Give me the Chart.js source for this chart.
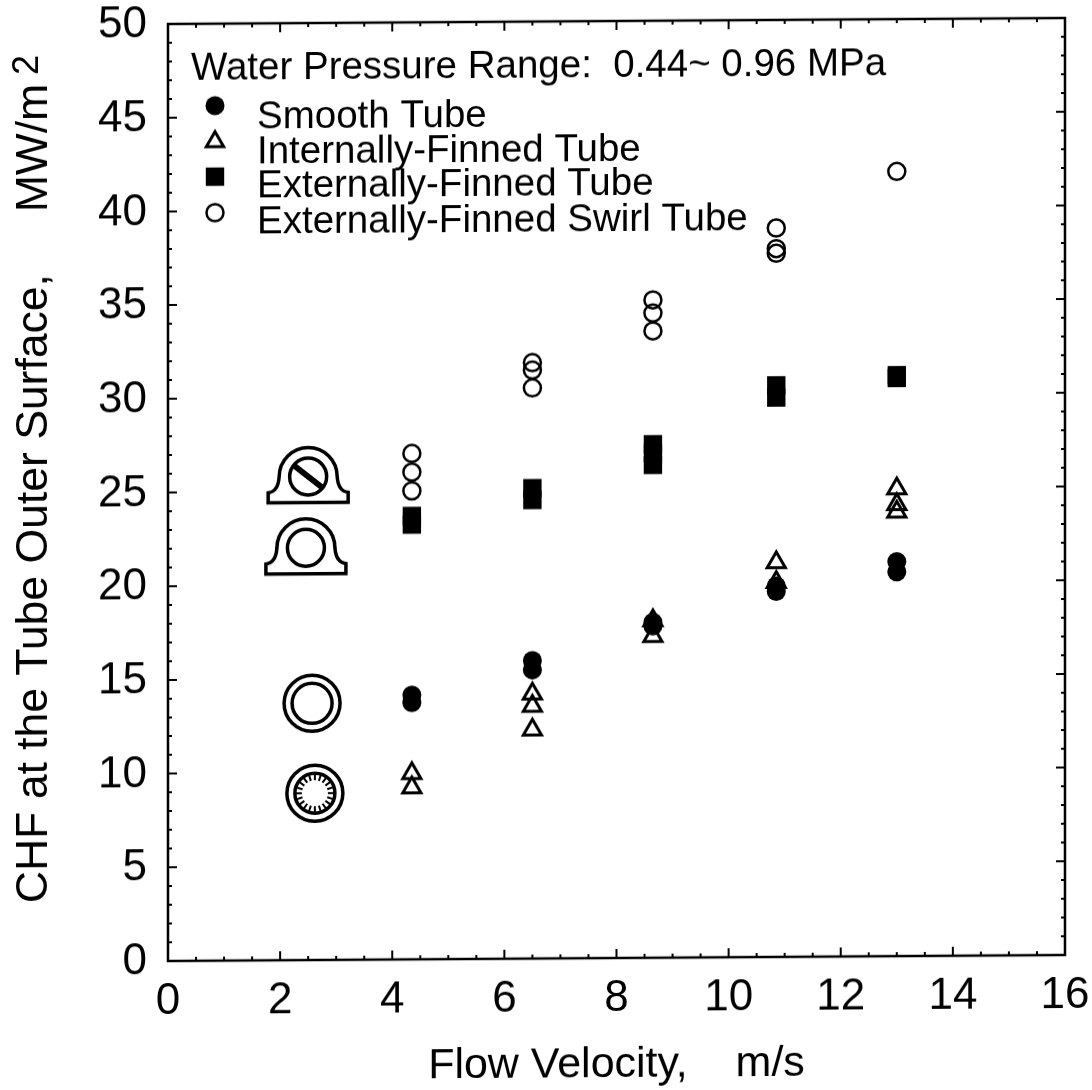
<!DOCTYPE html>
<html>
<head>
<meta charset="utf-8">
<title>CHF vs Flow Velocity</title>
<script src="https://cdn.jsdelivr.net/npm/chart.js@4"></script>
<style>
  html, body { margin: 0; background: #fff; }
  /* the scanned original leans slightly: top and bottom axes rise to the right */
  #chf { display: block; transform-origin: 168px 0; transform: skewY(-0.383deg); }
</style>
</head>
<body>
<canvas id="chf" width="1092" height="1090"></canvas>
<script>
const velocities = [4.35, 6.5, 8.65, 10.85, 13.0];

// CHF readings (MW/m2), one list per velocity
const smoothTube = [[14.1, 13.7], [15.9, 15.4], [17.9, 17.7], [19.8, 19.5], [21.05, 20.5]];
const internallyFinned = [[9.92, 9.16], [14.13, 13.47, 12.2], [18.0, 17.15], [21.05, 20.0], [24.95, 24.1, 23.7]];
const externallyFinned = [[23.66, 23.2], [25.1, 24.47], [27.4, 26.9, 26.3], [30.5, 29.85], [31.0, 30.85]];
const swirlTube = [[27.0, 26.0, 25.0], [31.8, 31.4, 30.45], [35.1, 34.4, 33.45], [38.9, 37.8, 37.55], [41.87]];

const legendTitle = 'Water Pressure Range:  0.44~ 0.96 MPa';
const seriesNames = ['Smooth Tube', 'Internally-Finned Tube', 'Externally-Finned Tube', 'Externally-Finned Swirl Tube'];

const FONT = '"Liberation Sans", Arial, sans-serif';
const BLACK = '#000';
const CLEAR = 'rgba(0,0,0,0)';

function toPoints(rows) {
  const pts = [];
  rows.forEach((vals, i) => vals.forEach(v => pts.push({ x: velocities[i], y: v })));
  return pts;
}

const markers = [
  { pointStyle: 'circle', pointRadius: 9.5, pointBackgroundColor: BLACK, pointBorderColor: BLACK, pointBorderWidth: 0 },
  { pointStyle: 'triangle', pointRadius: 10.5, pointBackgroundColor: CLEAR, pointBorderColor: BLACK, pointBorderWidth: 3 },
  { pointStyle: 'rect', pointRadius: 13, pointBackgroundColor: BLACK, pointBorderColor: BLACK, pointBorderWidth: 0 },
  { pointStyle: 'circle', pointRadius: 8.5, pointBackgroundColor: CLEAR, pointBorderColor: BLACK, pointBorderWidth: 2.5 }
];

// tube cross-section sketches, anchored in data units
function saddle(ctx, swirl) {
  ctx.beginPath();
  ctx.moveTo(-29, 0);
  ctx.arc(0, 0, 29, Math.PI, 0);
  ctx.quadraticCurveTo(30, 15, 40, 16);
  ctx.lineTo(40, 26);
  ctx.lineTo(-40, 26);
  ctx.lineTo(-40, 16);
  ctx.quadraticCurveTo(-30, 15, -29, 0);
  ctx.stroke();
  ctx.beginPath();
  ctx.arc(0, 0, 18.5, 0, Math.PI * 2);
  ctx.stroke();
  if (swirl) {
    ctx.save();
    ctx.lineWidth = 6;
    ctx.beginPath();
    ctx.moveTo(-14, -11);
    ctx.lineTo(14, 11);
    ctx.stroke();
    ctx.restore();
  }
}

function ring(ctx, finned) {
  ctx.beginPath();
  ctx.arc(0, 0, 28, 0, Math.PI * 2);
  ctx.stroke();
  ctx.beginPath();
  ctx.arc(0, 0, 20, 0, Math.PI * 2);
  ctx.stroke();
  if (finned) {
    ctx.save();
    ctx.lineWidth = 2;
    for (let i = 0; i < 20; i++) {
      const a = i / 20 * Math.PI * 2;
      ctx.beginPath();
      ctx.moveTo(Math.cos(a) * 19, Math.sin(a) * 19);
      ctx.lineTo(Math.cos(a) * 13, Math.sin(a) * 13);
      ctx.stroke();
    }
    ctx.restore();
  }
}

const frame = {
  id: 'frame',
  afterDatasetsDraw(chart) {
    const { ctx, chartArea: a, scales: { x, y } } = chart;
    ctx.save();
    ctx.strokeStyle = BLACK;
    ctx.fillStyle = BLACK;
    ctx.lineWidth = 2.5;
    ctx.strokeRect(a.left, a.top, a.right - a.left, a.bottom - a.top);

    // inward ticks on all four sides
    ctx.lineWidth = 2;
    x.ticks.forEach(t => {
      const px = x.getPixelForValue(t.value);
      const len = t.value % 2 === 0 ? 9 : 4;
      ctx.beginPath();
      ctx.moveTo(px, a.bottom); ctx.lineTo(px, a.bottom - len);
      ctx.moveTo(px, a.top); ctx.lineTo(px, a.top + len);
      ctx.stroke();
    });
    y.ticks.forEach(t => {
      const py = y.getPixelForValue(t.value);
      const len = t.value % 5 === 0 ? 9 : 4;
      ctx.beginPath();
      ctx.moveTo(a.left, py); ctx.lineTo(a.left + len, py);
      ctx.moveTo(a.right, py); ctx.lineTo(a.right - len, py);
      ctx.stroke();
    });

    // sketches
    ctx.lineWidth = 3.5;
    [[2.5, 25.8, saddle, true], [2.46, 22.0, saddle, false], [2.57, 13.7, ring, false], [2.62, 8.9, ring, true]].forEach(s => {
      ctx.save();
      ctx.translate(x.getPixelForValue(s[0]), y.getPixelForValue(s[1]));
      s[2](ctx, s[3]);
      ctx.restore();
    });

    // legend inside the plot
    ctx.textBaseline = 'alphabetic';
    ctx.textAlign = 'left';
    ctx.font = '38.5px ' + FONT;
    ctx.fillText(legendTitle, a.left + 23, 80);
    const rowY = [106, 142, 177, 213];
    const textY = [129, 164, 198, 234];
    seriesNames.forEach((name, i) => {
      const m = markers[i];
      ctx.save();
      ctx.fillStyle = m.pointBackgroundColor;
      ctx.lineWidth = m.pointBorderWidth;
      Chart.helpers.drawPoint(ctx, {
        pointStyle: m.pointStyle,
        radius: i === 1 ? 10 : m.pointRadius,
        borderWidth: m.pointBorderWidth,
        rotation: 0
      }, 215, rowY[i]);
      ctx.restore();
      ctx.fillText(name, 257, textY[i]);
    });

    // raised 2 after the y axis title
    ctx.save();
    ctx.translate(38, 74);
    ctx.rotate(-Math.PI / 2);
    ctx.font = '36px ' + FONT;
    ctx.fillText('2', 0, 0);
    ctx.restore();
    ctx.restore();
  }
};

new Chart(document.getElementById('chf'), {
  type: 'scatter',
  data: {
    datasets: [
      { label: seriesNames[0], data: toPoints(smoothTube), ...markers[0] },
      { label: seriesNames[1], data: toPoints(internallyFinned), ...markers[1] },
      { label: seriesNames[2], data: toPoints(externallyFinned), ...markers[2] },
      { label: seriesNames[3], data: toPoints(swirlTube), ...markers[3] }
    ]
  },
  options: {
    responsive: false,
    animation: false,
    layout: { padding: { top: 24, right: 27, left: 0, bottom: 0 } },
    plugins: { legend: { display: false }, tooltip: { enabled: false } },
    scales: {
      x: {
        type: 'linear',
        min: 0,
        max: 16,
        afterFit(s) { s.height = 129; s.paddingLeft = 0; s.paddingRight = 0; },
        border: { display: false },
        grid: { display: false, drawTicks: false },
        ticks: {
          stepSize: 0.5,
          autoSkip: false,
          maxRotation: 0,
          padding: 14,
          color: BLACK,
          font: { family: FONT, size: 44 },
          callback: v => (v % 2 === 0 ? String(v) : '')
        },
        title: {
          display: true,
          text: 'Flow Velocity,    m/s',
          color: BLACK,
          font: { family: FONT, size: 43 },
          padding: { top: 0, bottom: -4 }
        }
      },
      y: {
        type: 'linear',
        min: 0,
        max: 50,
        afterFit(s) { s.width = 168; s.paddingTop = 0; s.paddingBottom = 0; },
        border: { display: false },
        grid: { display: false, drawTicks: false },
        ticks: {
          stepSize: 1,
          autoSkip: false,
          padding: 21,
          labelOffset: 1,
          color: BLACK,
          font: { family: FONT, size: 44 },
          callback: v => (v % 5 === 0 ? String(v) : '')
        },
        title: {
          display: true,
          text: 'CHF at the Tube Outer Surface,     MW/m',
          color: BLACK,
          font: { family: FONT, size: 44.5 },
          padding: { top: 8, bottom: 0 }
        }
      }
    }
  },
  plugins: [frame]
});
</script>
</body>
</html>
